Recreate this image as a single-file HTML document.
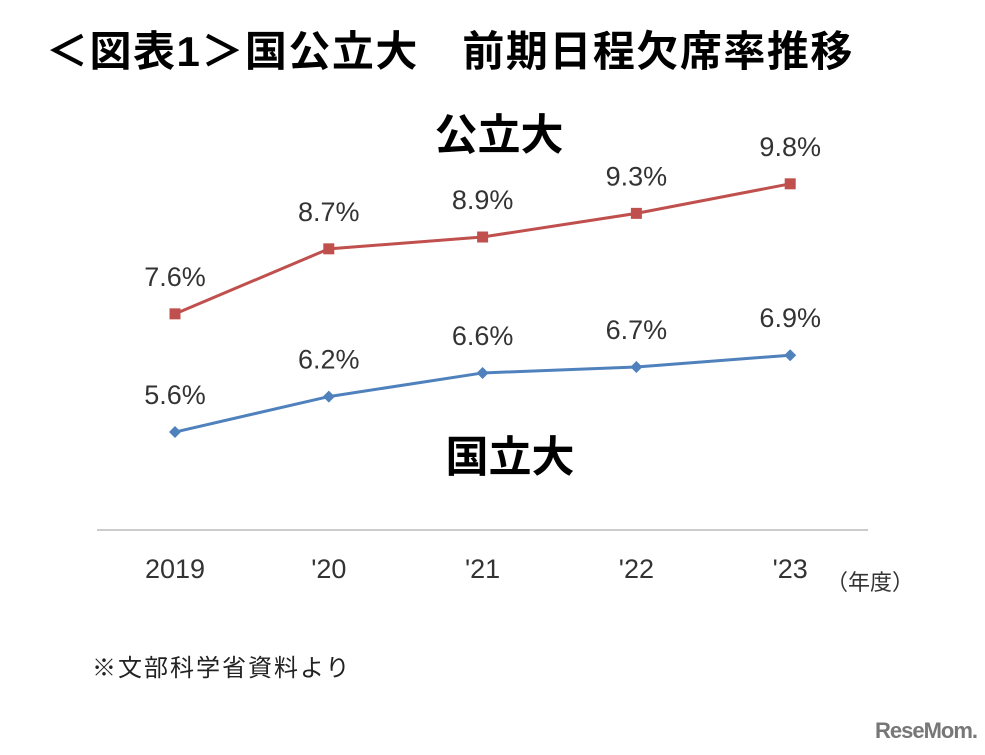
<!DOCTYPE html>
<html><head><meta charset="utf-8"><style>
body{margin:0;width:985px;height:755px;background:#fff;overflow:hidden;position:relative;font-family:"Liberation Sans","Noto Sans CJK JP",sans-serif}
.t{position:absolute;white-space:nowrap}
</style></head><body>
<div class="t" style="left:46px;top:18px;font-size:42px;letter-spacing:1.5px;font-weight:bold;color:#000">＜図表1＞国公立大　前期日程欠席率推移</div>
<svg id="c" width="985" height="755" style="position:absolute;left:0;top:0"></svg>
<div class="t" style="left:92px;top:648px;font-size:24px;letter-spacing:2px;color:#222">※文部科学省資料より</div>
<div class="t" style="left:875px;top:718px;font-size:22px;font-weight:bold;color:#777;letter-spacing:-1px">ReseMom.</div>
<script>
const categories=["2019","'20","'21","'22","'23"];
const publicVals=[7.6,8.7,8.9,9.3,9.8];
const nationalVals=[5.6,6.2,6.6,6.7,6.9];
const publicLabels=["7.6%","8.7%","8.9%","9.3%","9.8%"];
const nationalLabels=["5.6%","6.2%","6.6%","6.7%","6.9%"];
const svg=document.getElementById('c');const NS='http://www.w3.org/2000/svg';
function x(i){return 175+i*153.8;}
function y(v){return 763-59.1*v;}
function mk(t,a,p){const e=document.createElementNS(NS,t);for(const k in a)e.setAttribute(k,a[k]);(p||svg).appendChild(e);return e;}
const ax=mk('line',{x1:97,y1:530,x2:868,y2:530,stroke:'#bbb','stroke-width':1.5});


categories.forEach((c,i)=>{const t=mk('text',{x:x(i),y:578,'text-anchor':'middle','font-size':27,fill:'#333','font-family':'Liberation Sans'});t.textContent=c;

});
const yr=mk('text',{x:826,y:590,'font-size':22,fill:'#333','font-family':'Liberation Sans, Noto Sans CJK JP, sans-serif'});yr.textContent='（年度）';


function series(vals,labels,color,shape,name){
 const pts=vals.map((v,i)=>x(i)+','+y(v)).join(' ');
 const l=mk('polyline',{points:pts,fill:'none',stroke:color,'stroke-width':3});
 
 
 vals.forEach((v,i)=>{let m;
  if(shape==='sq')m=mk('rect',{x:x(i)-5.5,y:y(v)-5.5,width:11,height:11,fill:color});
  else m=mk('polygon',{points:`${x(i)},${y(v)-6} ${x(i)+6},${y(v)} ${x(i)},${y(v)+6} ${x(i)-6},${y(v)}`,fill:color});
  
  
  const t=mk('text',{x:x(i),y:y(v)-28,'text-anchor':'middle','font-size':27,fill:'#333','font-family':'Liberation Sans'});t.textContent=labels[i];
  
  });
}
series(publicVals,publicLabels,'#c0504d','sq','public');
series(nationalVals,nationalLabels,'#4f81bd','dia','national');
const l1=mk('text',{x:499,y:150,'text-anchor':'middle','font-size':43,'font-weight':'bold',fill:'#000','font-family':'Noto Sans CJK JP, sans-serif'});l1.textContent='公立大';


const l2=mk('text',{x:510,y:472,'text-anchor':'middle','font-size':43,'font-weight':'bold',fill:'#000','font-family':'Noto Sans CJK JP, sans-serif'});l2.textContent='国立大';


</script>
</body></html>
